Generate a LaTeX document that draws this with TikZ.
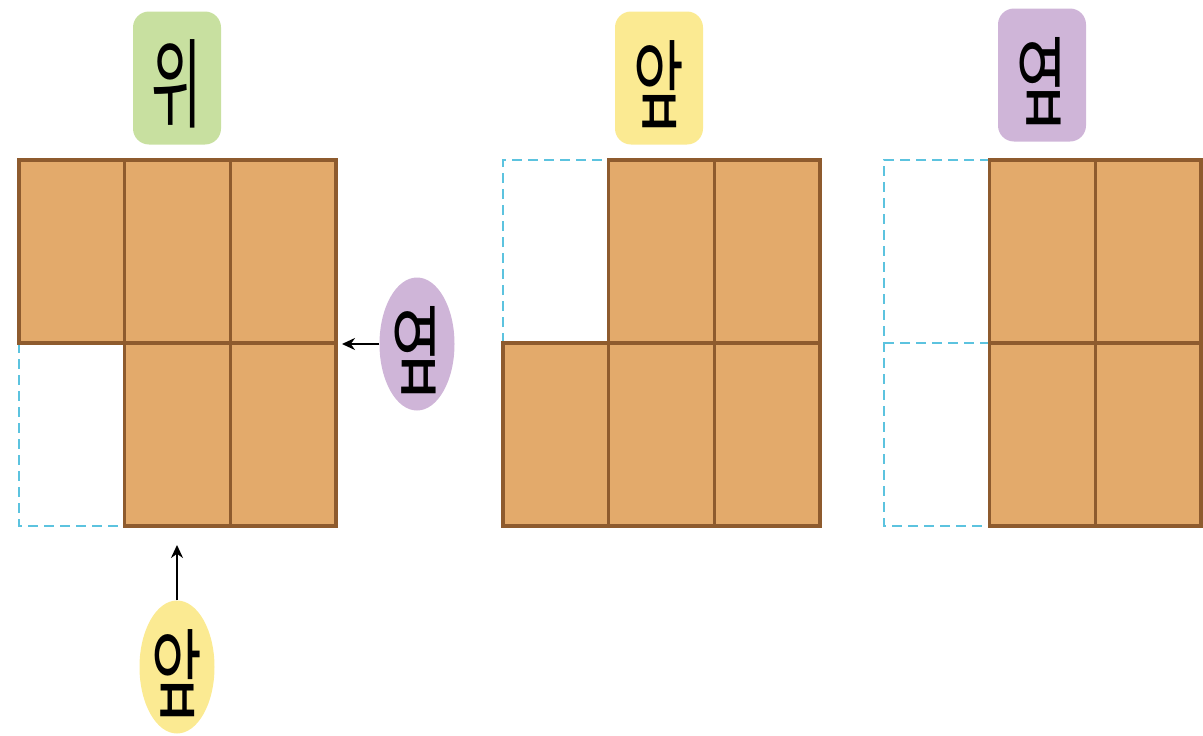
\documentclass[tikz,border=0pt]{standalone}
\usepackage{fontspec}
\usepackage{graphicx}
\newfontfamily\kor{Noto Sans CJK KR}
\usetikzlibrary{shapes, positioning, arrows.meta}
\definecolor{boxfill}{HTML}{E3AA6B}
\definecolor{boxline}{HTML}{8E5B2E}
\definecolor{ghostblue}{HTML}{5CC3DF}
\definecolor{topgreen}{HTML}{C8E0A0}
\definecolor{frontyellow}{HTML}{FBEA92}
\definecolor{sidepurple}{HTML}{CFB5D8}
\newcommand\tall[1]{\raisebox{-6pt}[\height][\depth]{\scalebox{0.56}[1]{#1}}}
\begin{document}
\begin{tikzpicture}[x=1pt,y=-1pt,
    cell/.style={fill=boxfill,draw=boxline,line width=3.5pt},
    ghost/.style={draw=ghostblue,line width=2.5pt,dash pattern=on 10pt off 6pt},
    tag/.style={rounded corners=16pt,minimum width=88pt,minimum height=133pt,inner sep=0pt},
    oval/.style={ellipse,minimum width=75pt,minimum height=133pt,inner sep=0pt},
    every node/.style={font=\kor\fontsize{98}{98}\selectfont}]
  \useasboundingbox (0,0) rectangle (1203,736);
  \def\cw{105.67}
  \def\ch{183}
  % dashed outlines
  \draw[ghost] (19,343) -- (19,526) -- (125,526);
  \draw[ghost] (503,343) -- (503,160) -- (609,160);
  \draw[ghost] (990,160) -- (884,160) -- (884,526) -- (990,526);
  \draw[ghost] (884,343) -- (990,343);
  % top view
  \foreach \c/\r in {0/0,1/0,2/0,1/1,2/1}
    \draw[cell] (19+\c*\cw,160+\r*\ch) rectangle ++(\cw,\ch);
  % front view
  \foreach \c/\r in {1/0,2/0,0/1,1/1,2/1}
    \draw[cell] (503+\c*\cw,160+\r*\ch) rectangle ++(\cw,\ch);
  % side view
  \foreach \c/\r in {1/0,2/0,1/1,2/1}
    \draw[cell] (884+\c*\cw,160+\r*\ch) rectangle ++(\cw,\ch);
  % labels
  \node[tag,fill=topgreen] (top) at (177,78) {\tall{위}};
  \node[tag,fill=frontyellow] (fronttag) at (659,78) {\tall{앞}};
  \node[tag,fill=sidepurple] (sidetag) at (1042,75) {\tall{옆}};
  \node[oval,fill=sidepurple] (side) at (417,344) {\tall{옆}};
  \node[oval,fill=frontyellow] (front) at (177,667) {\tall{앞}};
  \coordinate (sidetip) at (342,344);
  \coordinate (fronttip) at (177,545);
  \draw[-{Stealth[length=13pt,width=12pt]},line width=2.5pt] (side.west) -- (sidetip);
  \draw[-{Stealth[length=13pt,width=12pt]},line width=2.5pt] (front.north) -- (fronttip);
\end{tikzpicture}
\end{document}
